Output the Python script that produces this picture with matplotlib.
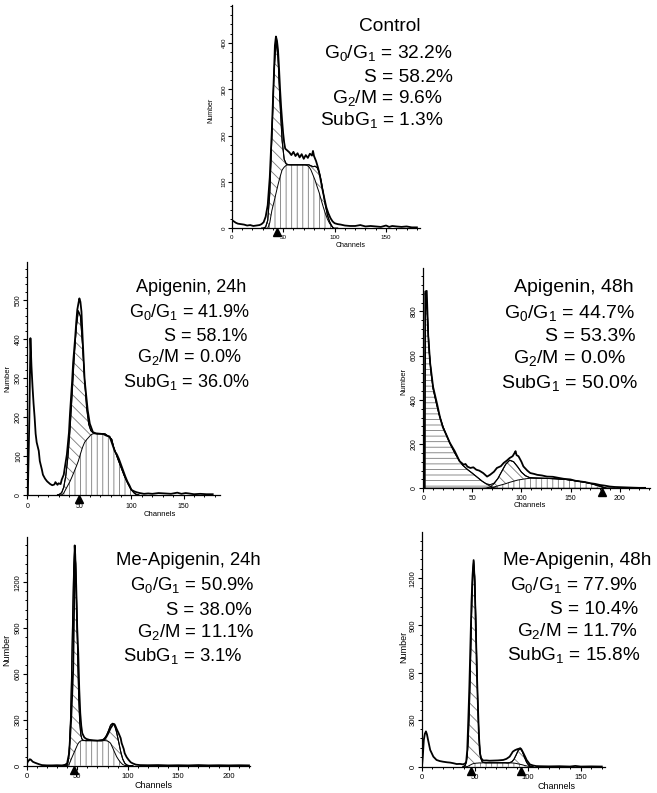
## import libraries ##
import matplotlib
matplotlib.use('Agg')
import matplotlib.pyplot as plt
import numpy as np
from matplotlib.ticker import MultipleLocator

plt.rcParams['font.family'] = ['Liberation Sans', 'DejaVu Sans']
plt.rcParams['mathtext.fontset'] = 'custom'
plt.rcParams['mathtext.rm'] = 'Liberation Sans'
plt.rcParams['mathtext.it'] = 'Liberation Sans:italic'
plt.rcParams['mathtext.bf'] = 'Liberation Sans:bold'
plt.rcParams['hatch.linewidth'] = 0.6

## data (channel, cell number) ##

# Control
ctrl_ch = [0, 2, 4, 6, 9, 12, 15, 18, 21, 24, 27, 29, 31, 33, 35, 37, 39, 41, 42, 43,
           44, 45, 46, 47, 48, 49, 50, 51, 52, 54, 56, 58, 60, 62, 64, 66, 68, 70, 72, 74,
           76, 78, 79, 80, 82, 84, 86, 88, 90, 92, 94, 96, 98, 100, 103, 106, 110, 115, 120, 125,
           130, 135, 140, 145, 150, 153, 156, 160, 165, 170, 175, 180]
ctrl_n = [18, 15, 12, 10, 9, 8, 6, 7, 5, 6, 7, 9, 13, 25, 50, 110, 210, 330, 395, 414,
          405, 385, 345, 300, 262, 232, 205, 185, 172, 168, 164, 158, 165, 156, 162, 153, 160, 150, 158, 152,
          161, 157, 167, 156, 145, 130, 110, 86, 65, 45, 32, 22, 15, 11, 9, 8, 6, 5, 5, 7,
          4, 5, 4, 3, 6, 3, 5, 4, 3, 4, 2, 2]
ctrl_grid = [29, 31, 33, 35, 37, 39, 41, 43, 45, 47, 49, 51, 53, 55, 57, 59, 61, 63, 65, 67,
             69, 71, 73, 75, 77, 79, 81, 83, 85, 87, 89, 91, 93, 95, 97, 99, 101, 103]
ctrl_g1 = [0, 0.4, 3, 17, 63, 158, 275, 330, 275, 158, 63, 17, 3, 0.4, 0, 0, 0, 0, 0, 0,
           0, 0, 0, 0, 0, 0, 0, 0, 0, 0, 0, 0, 0, 0, 0, 0, 0, 0]
ctrl_s = [0, 0, 0, 0, 12, 38, 56, 75, 94, 111, 126, 132, 136, 137, 137, 137, 137, 137, 137, 137,
          137, 137, 136, 133, 126, 115, 104, 90, 77, 61, 46, 32, 20, 11, 5, 0, 0, 0]
ctrl_g2 = [0, 0, 0, 0, 0, 0, 0, 0, 0, 0, 0, 0, 0, 0, 0, 0, 0, 0, 0, 0,
           0, 0, 1, 4, 9, 18, 30, 41, 45, 41, 30, 18, 9, 4, 1, 0, 0, 0]
ctrl_sub = [0] * len(ctrl_grid)
ctrl_marks = [44]

# Apigenin, 24h
a24_ch = [0.5, 2, 3, 4, 5, 6, 7, 8, 9, 11, 12, 14, 15, 17, 19, 22, 24, 26, 27, 29,
          30, 32, 33, 35, 36, 38, 40, 41, 43, 44, 46, 47, 48, 49, 50, 51, 52, 53, 55, 58,
          60, 63, 66, 70, 73, 76, 79, 81, 84, 86, 88, 91, 94, 96, 98, 100, 103, 105, 108, 112,
          116, 120, 126, 132, 138, 144, 148, 152, 155, 160, 166, 172, 178]
a24_n = [0, 200, 402, 330, 278, 235, 200, 157, 135, 113, 87, 65, 52, 42, 35, 28, 25, 27, 33, 26,
         30, 28, 39, 52, 70, 104, 160, 209, 290, 339, 405, 443, 475, 490, 504, 495, 470, 409, 296, 217,
         183, 161, 158, 157, 156, 152, 150, 135, 112, 104, 92, 70, 48, 35, 25, 13, 9, 7, 5, 3,
         4, 3, 5, 4, 3, 6, 3, 5, 4, 2, 3, 2, 2]
a24_grid = [29, 31, 33, 35, 37, 39, 41, 43, 45, 47, 49, 51, 53, 55, 57, 59, 61, 63, 65, 67,
            69, 71, 73, 75, 77, 79, 81, 83, 85, 87, 89, 91, 93, 95, 97, 99, 101, 103, 105, 107]
a24_g1 = [0, 2, 6, 15, 35, 73, 132, 210, 292, 356, 385, 353, 263, 160, 80, 33, 11, 3, 0.7, 0,
          0, 0, 0, 0, 0, 0, 0, 0, 0, 0, 0, 0, 0, 0, 0, 0, 0, 0, 0, 0]
a24_s = [0, 0, 0, 5, 15, 25, 35, 47, 60, 73, 87, 105, 122, 135, 142, 148, 154, 157, 157, 157,
         157, 157, 157, 156, 152, 148, 143, 122, 107, 92, 78, 64, 50, 38, 27, 17, 10, 4, 1, 0]
a24_g2 = [0] * len(a24_grid)
a24_sub = [0] * len(a24_grid)
a24_marks = [50]

# Apigenin, 48h
a48_ch = [1.5, 2, 3.5, 5, 7, 10, 14, 17, 20, 24, 27, 32, 37, 39, 41, 43, 45, 48, 51, 54,
          57, 61, 65, 68, 72, 75, 79, 82, 85, 88, 91, 93, 94, 95, 97, 100, 102, 106, 109, 113,
          116, 121, 126, 132, 138, 143, 150, 155, 160, 165, 170, 175, 180, 185, 190, 195, 201, 207, 213, 220,
          226]
a48_n = [0, 890, 893, 690, 565, 458, 382, 321, 275, 237, 206, 168, 122, 115, 107, 110, 98, 92, 95, 84,
         80, 69, 53, 61, 75, 92, 100, 115, 125, 137, 145, 160, 168, 150, 145, 120, 99, 80, 69, 65,
         61, 58, 53, 52, 47, 43, 40, 34, 31, 28, 23, 20, 15, 12, 8, 6, 5, 4, 3, 2,
         2]
a48_grid = [2, 4, 6, 8, 10, 13, 16, 20, 24, 28, 32, 36, 40, 45, 50, 55, 60, 64, 68, 72,
            76, 80, 84, 88, 92, 96, 100, 104, 108, 112, 116, 125, 135, 145, 155, 165, 172, 178, 183, 187,
            195]
a48_sub = [880, 800, 620, 520, 450, 390, 335, 280, 235, 195, 160, 130, 105, 85, 68, 50, 32, 20, 10, 3,
           0, 0, 0, 0, 0, 0, 0, 0, 0, 0, 0, 0, 0, 0, 0, 0, 0, 0, 0, 0,
           0]
a48_g1 = [0, 0, 0, 0, 0, 0, 0, 0, 0, 0, 0, 0, 0, 0, 0, 0, 0, 1, 4, 14,
          33, 61, 88, 100, 88, 61, 33, 14, 4, 1, 0, 0, 0, 0, 0, 0, 0, 0, 0, 0,
          0]
a48_s = [0, 0, 0, 0, 0, 0, 0, 0, 0, 0, 0, 0, 0, 0, 0, 0, 0, 0, 2, 6,
         11, 16, 21, 27, 32, 37, 40, 43, 45, 46, 46, 45, 43, 40, 34, 27, 20, 12, 5, 0,
         0]
a48_g2 = [0] * len(a48_grid)
a48_marks = [182]

# Me-Apigenin, 24h
m24_ch = [0, 1, 3, 4, 6, 8, 10, 13, 15, 20, 25, 30, 35, 38, 40, 41, 42, 43, 44, 45,
          46, 47, 47.5, 48, 49, 50, 51, 52, 53, 54, 55, 57, 59, 62, 66, 70, 74, 77, 79, 81,
          83, 85, 86, 87, 88, 89, 91, 93, 94, 96, 97, 99, 101, 103, 105, 108, 112, 120, 130, 140,
          150, 160, 170, 180, 190, 200, 210, 220]
m24_n = [10, 25, 42, 40, 26, 20, 15, 8, 4, 2, 2, 3, 2, 6, 15, 50, 81, 190, 300, 460,
         628, 1066, 1440, 1380, 1176, 900, 738, 500, 344, 260, 212, 185, 175, 169, 166, 164, 164, 170, 190, 215,
         245, 265, 274, 270, 256, 240, 212, 180, 147, 110, 81, 55, 37, 22, 15, 7, 4, 3, 4, 2,
         3, 2, 4, 2, 3, 2, 3, 2]
m24_grid = [36, 38, 39.5, 40.5, 41.5, 42.5, 43.5, 44.5, 45.5, 46.5, 47.5, 48.5, 49.5, 50.5, 51.5, 52.5, 53.5, 54.5, 55.5, 58,
            60, 65, 70, 75, 77, 79, 81, 83, 85, 87, 89, 91, 93, 95, 97, 99, 101, 103, 105]
m24_g1 = [0, 0, 3, 13, 44, 125, 293, 568, 911, 1210, 1330, 1210, 911, 568, 293, 125, 44, 13, 3, 0,
          0, 0, 0, 0, 0, 0, 0, 0, 0, 0, 0, 0, 0, 0, 0, 0, 0, 0, 0]
m24_s = [0, 0, 0, 0, 5, 18, 33, 50, 65, 80, 95, 110, 125, 140, 150, 157, 162, 164, 164, 164,
         164, 164, 164, 164, 164, 163, 158, 147, 118, 88, 59, 38, 21, 8, 2, 0, 0, 0, 0]
m24_g2 = [0, 0, 0, 0, 0, 0, 0, 0, 0, 0, 0, 0, 0, 0, 0, 0, 0, 0, 0, 0,
          0, 0, 0, 5, 15, 36, 72, 118, 159, 175, 159, 118, 72, 36, 15, 5, 1, 0, 0]
m24_sub = [0] * len(m24_grid)
m24_marks = [47]

# Me-Apigenin, 48h
m48_ch = [0.5, 1, 2, 3, 4, 5, 6, 8, 11, 14, 17, 20, 24, 27, 30, 33, 36, 39, 41, 42,
          43, 44, 45, 46, 47, 48, 49, 50, 51, 52, 53, 54, 55, 56, 58, 61, 64, 68, 72, 77,
          80, 83, 85, 86, 88, 90, 92, 93, 94, 96, 98, 99, 101, 102, 105, 108, 112, 120, 130, 140,
          145, 150, 160, 170]
m48_n = [20, 60, 171, 210, 225, 205, 171, 107, 64, 43, 36, 32, 28, 26, 22, 17, 18, 15, 20, 32,
         107, 300, 514, 780, 1049, 1220, 1316, 1180, 900, 621, 400, 200, 86, 55, 39, 40, 38, 39, 40, 43,
         50, 64, 85, 96, 105, 111, 115, 118, 112, 86, 58, 43, 25, 15, 8, 4, 3, 2, 3, 1,
         5, 1, 2, 1]
m48_grid = [39, 41, 42, 43, 44, 45, 46, 47, 48, 49, 50, 51, 52, 53, 54, 55, 56, 57, 58, 60,
            65, 70, 75, 79, 81, 83, 85, 87, 89, 91, 93, 95, 97, 99, 101, 103, 105]
m48_g1 = [0, 8, 26, 72, 174, 359, 628, 937, 1191, 1290, 1191, 937, 628, 359, 174, 72, 26, 8, 2, 0,
          0, 0, 0, 0, 0, 0, 0, 0, 0, 0, 0, 0, 0, 0, 0, 0, 0]
m48_s = [0, 0, 0, 0, 4, 8, 11, 15, 18, 20, 21, 22, 23, 23, 24, 24, 24, 24, 25, 25,
         25, 25, 25, 25, 24, 24, 24, 23, 21, 18, 15, 12, 8, 5, 2, 0, 0]
m48_g2 = [0, 0, 0, 0, 0, 0, 0, 0, 0, 0, 0, 0, 0, 0, 0, 0, 0, 0, 0, 0,
          0, 0, 0, 0, 0, 2, 7, 23, 52, 85, 100, 85, 52, 23, 7, 2, 0]
m48_sub = [0] * len(m48_grid)
m48_marks = [47, 94]

## percentages shown on each panel ##
titles = ['Control', 'Apigenin, 24h', 'Apigenin, 48h', 'Me-Apigenin, 24h', 'Me-Apigenin, 48h']
g0g1_pct = [32.2, 41.9, 44.7, 50.9, 77.9]
s_pct = [58.2, 58.1, 53.3, 38.0, 10.4]
g2m_pct = [9.6, 0.0, 0.0, 11.1, 11.7]
subg1_pct = [1.3, 36.0, 50.0, 3.1, 15.8]

panels = [
    (ctrl_ch, ctrl_n, ctrl_grid, ctrl_s, ctrl_g1, ctrl_g2, ctrl_sub, ctrl_marks),
    (a24_ch, a24_n, a24_grid, a24_s, a24_g1, a24_g2, a24_sub, a24_marks),
    (a48_ch, a48_n, a48_grid, a48_s, a48_g1, a48_g2, a48_sub, a48_marks),
    (m24_ch, m24_n, m24_grid, m24_s, m24_g1, m24_g2, m24_sub, m24_marks),
    (m48_ch, m48_n, m48_grid, m48_s, m48_g1, m48_g2, m48_sub, m48_marks),
]

## layout (pixels) ##
W, H = 657, 793
layout = [
    dict(box=(231.7, 5, 188.3, 223.3), xmax=183, ymax=482, ymaj=100, ymin=20, tick=4.5, lab=5,
         num=(-0.11, 0.53), chan=(0.63, -0.078), fs=13.8, xpad=2.5,
         txt=[(390, 30.7), (388.3, 58.3), (408.3, 81.7), (387.5, 102.7), (381.7, 125)]),
    dict(box=(27.3, 261.7, 192.7, 233.3), xmax=185, ymax=598, ymaj=100, ymin=20, tick=5, lab=5.5,
         num=(-0.10, 0.50), chan=(0.69, -0.082), fs=13, xpad=3.5,
         txt=[(190.8, 291.7), (190, 316.7), (205.8, 341), (189.2, 362.3), (186.7, 386.7)]),
    dict(box=(423.3, 268.3, 226.7, 220), xmax=231, ymax=995, ymaj=200, ymin=40, tick=5, lab=5.5,
         num=(-0.085, 0.485), chan=(0.47, -0.08), fs=14, xpad=2.5,
         txt=[(574.2, 292.3), (569.2, 317.7), (590, 341), (570, 363.3), (569.2, 387.7)]),
    dict(box=(26.7, 537, 223.3, 228.7), xmax=221, ymax=1495, ymaj=300, ymin=60, tick=5.5, lab=6.5,
         num=(-0.09, 0.506), chan=(0.566, -0.085), fs=13.3, xpad=2.5,
         txt=[(188.3, 565), (192.5, 590), (209.2, 615), (195.8, 636.7), (182.5, 660.7)]),
    dict(box=(421.7, 532, 183.3, 234.7), xmax=173, ymax=1495, ymaj=300, ymin=60, tick=5.5, lab=6.5,
         num=(-0.097, 0.511), chan=(0.737, -0.085), fs=13.7, xpad=2.5,
         txt=[(577.5, 565), (574.2, 590), (594.2, 614.3), (577.5, 636), (574.2, 660)]),
]

hatch_col = '#7a7a7a'

fig = plt.figure(figsize=(W / 100, H / 100), dpi=100)
fig.patch.set_facecolor('white')

for i, (p, lay) in enumerate(zip(panels, layout)):
    ch, n, grid, s, g1, g2, sub, marks = p
    grid = np.array(grid, float)
    s = np.array(s, float)
    peaks = np.array(g1, float) + np.array(g2, float)
    sub = np.array(sub, float)
    fit = s + peaks + sub

    left, top, w, h = lay['box']
    ax = fig.add_axes([left / W, 1 - (top + h) / H, w / W, h / H])

    # model components
    ax.fill_between(grid, 0, s, facecolor='none', edgecolor=hatch_col, hatch='|||', lw=0)
    ax.fill_between(grid, s, s + peaks, facecolor='none', edgecolor=hatch_col, hatch='\\\\\\', lw=0)
    if sub.max() > 0:
        ax.fill_between(grid, 0, sub, facecolor='none', edgecolor=hatch_col, hatch='---', lw=0)
        ax.plot(grid, sub, color='k', lw=0.7)
    ax.plot(grid, s, color='k', lw=0.7)
    ax.plot(grid, s + peaks, color='k', lw=0.7)
    ax.plot(grid, fit, color='k', lw=0.8)

    # measured histogram
    ax.plot(ch, n, color='k', lw=1.3)

    # peak markers under the axis
    ax.plot(marks, [-0.017] * len(marks), marker='^', ls='none', color='k', ms=5.5,
            transform=ax.get_xaxis_transform(), clip_on=False)

    ax.set_xlim(0, lay['xmax'])
    ax.set_ylim(0, lay['ymax'])
    ax.xaxis.set_major_locator(MultipleLocator(50))
    ax.xaxis.set_minor_locator(MultipleLocator(10))
    ax.yaxis.set_major_locator(MultipleLocator(lay['ymaj']))
    ax.yaxis.set_minor_locator(MultipleLocator(lay['ymin']))
    for side in ['top', 'right']:
        ax.spines[side].set_visible(False)
    for side in ['left', 'bottom']:
        ax.spines[side].set_linewidth(0.9)
    ax.tick_params(which='major', length=2.6, width=0.8, labelsize=lay['tick'])
    ax.tick_params(which='minor', length=1.6, width=0.7)
    ax.tick_params(axis='x', pad=lay['xpad'])
    ax.tick_params(axis='y', labelrotation=90, pad=1.2)
    for t in ax.get_yticklabels():
        t.set_va('center')

    ax.text(lay['num'][0], lay['num'][1], 'Number', rotation=90, ha='center', va='center',
            fontsize=lay['lab'], transform=ax.transAxes)
    ax.text(lay['chan'][0], lay['chan'][1], 'Channels', ha='center', va='center',
            fontsize=lay['lab'], transform=ax.transAxes)

    lines = [titles[i],
             r'G$_\mathrm{0}$/G$_\mathrm{1}$ = %.1f%%' % g0g1_pct[i],
             'S = %.1f%%' % s_pct[i],
             r'G$_\mathrm{2}$/M = %.1f%%' % g2m_pct[i],
             r'SubG$_\mathrm{1}$ = %.1f%%' % subg1_pct[i]]
    for txt, (x, y) in zip(lines, lay['txt']):
        fig.text(x / W, 1 - y / H, txt, ha='center', va='baseline', fontsize=lay['fs'])

fig.savefig('out.png', dpi=100, facecolor='white')
